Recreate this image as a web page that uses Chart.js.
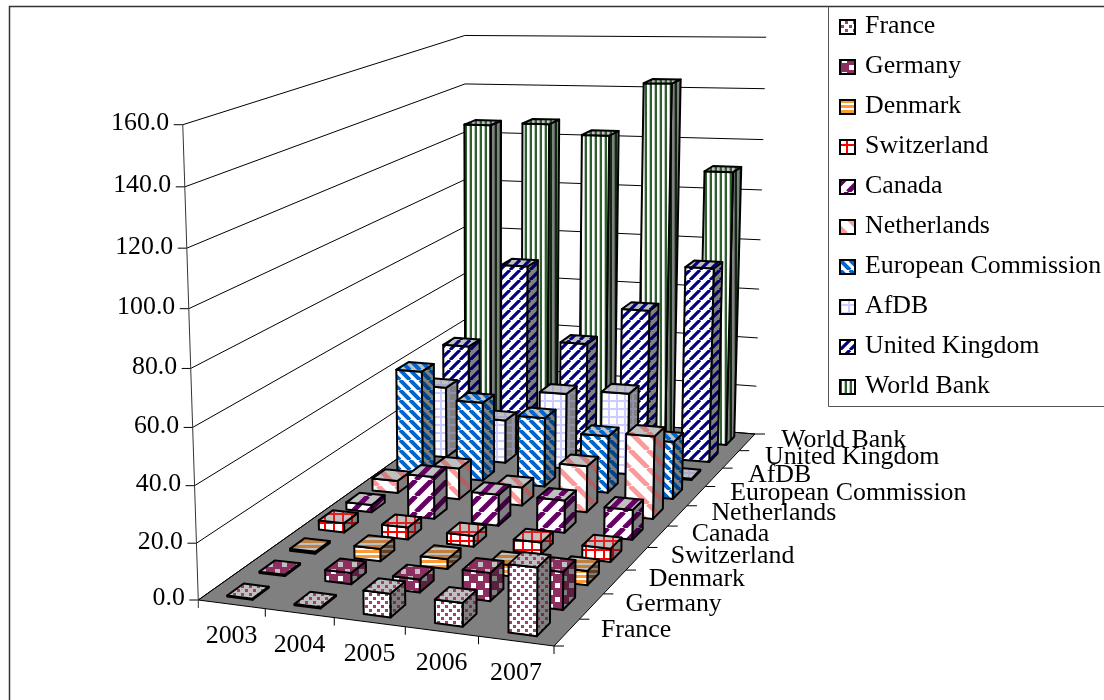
<!DOCTYPE html>
<html>
<head>
<meta charset="utf-8">
<title>Aid by donor</title>
<script src="https://cdn.jsdelivr.net/npm/chart.js@4"></script>
<style>
  body { margin: 0; background: #fff; }
  canvas { display: block; }
</style>
</head>
<body>
<canvas id="canvas" width="1104" height="700"></canvas>
<script>
const years = ["2003", "2004", "2005", "2006", "2007"];
const donors = ["France", "Germany", "Denmark", "Switzerland", "Canada", "Netherlands",
  "European Commission", "AfDB", "United Kingdom", "World Bank"];
const valueTicks = [0, 20, 40, 60, 80, 100, 120, 140, 160];
const valueLabels = ["0.0", "20.0", "40.0", "60.0", "80.0", "100.0", "120.0", "140.0", "160.0"];

const france = [0.4, 0.4, 8.1, 8.0, 22.8];
const germany = [0.5, 4.0, 4.6, 9.8, 13.0];
const denmark = [0.7, 4.5, 3.5, 4.0, 5.0];
const switzerland = [3.5, 4.5, 4.0, 4.3, 4.8];
const canada = [2.8, 16.0, 11.7, 12.0, 11.0];
const netherlands = [4.8, 12.0, 7.0, 17.5, 31.0];
const europeanCommission = [41.5, 31.0, 27.0, 22.0, 22.0];
const afdb = [28.7, 17.3, 30.0, 32.0, 0.5];
const unitedKingdom = [39.6, 74.0, 44.0, 59.0, 77.0];
const worldBank = [126.0, 127.0, 123.0, 144.0, 110.0];

const seriesValues = [france, germany, denmark, switzerland, canada, netherlands,
  europeanCommission, afdb, unitedKingdom, worldBank];

// corners of the floor and of the top plane on the page
const floorCorners = [[198.3, 600], [554, 646], [755, 434], [466, 410]];
const topCorners = [
  { u: 0, v: 0, x: 182.7, y: 128 },
  { u: 0, v: 1, x: 466, y: 28 },
  { u: 1, v: 1, x: 765, y: 42.5 },
];
const barWidthFront = 0.38;
const barWidthBack = 0.45;
const barDepth = 0.5;

const SERIF = '"Liberation Serif", "Times New Roman", serif';

function mean(list) {
  return list.reduce((a, b) => a + b, 0) / list.length;
}

function makeCamera(q, tops) {
  const [A, B, C, D] = q;
  const dx1 = B[0] - C[0], dx2 = D[0] - C[0], sx = A[0] - B[0] + C[0] - D[0];
  const dy1 = B[1] - C[1], dy2 = D[1] - C[1], sy = A[1] - B[1] + C[1] - D[1];
  const det = dx1 * dy2 - dx2 * dy1;
  const g = (sx * dy2 - dx2 * sy) / det;
  const h = (dx1 * sy - sx * dy1) / det;
  const a = B[0] - A[0] + g * B[0], b = D[0] - A[0] + h * D[0];
  const d = B[1] - A[1] + g * B[1], e = D[1] - A[1] + h * D[1];

  // least squares for the column of the camera that carries height
  const r = [], s = [];
  tops.forEach((p) => {
    const w = g * p.u + h * p.v + 1;
    r.push(p.x * w - (a * p.u + b * p.v + A[0]));
    s.push(p.y * w - (d * p.u + e * p.v + A[1]));
  });
  const xs = tops.map((p) => p.x), ys = tops.map((p) => p.y);
  const rm = mean(r), sm = mean(s), xm = mean(xs), ym = mean(ys);
  let top = 0, bottom = 0;
  tops.forEach((p, i) => {
    top += (r[i] - rm) * (xs[i] - xm) + (s[i] - sm) * (ys[i] - ym);
    bottom += (xs[i] - xm) ** 2 + (ys[i] - ym) ** 2;
  });
  const n = -top / bottom;
  const l = rm + xm * n, m = sm + ym * n;

  return (u, v, t) => {
    const w = g * u + h * v + n * t + 1;
    return [(a * u + b * v + l * t + A[0]) / w, (d * u + e * v + m * t + A[1]) / w];
  };
}
const project = makeCamera(floorCorners, topCorners);

function tile(size, bg, paint) {
  const c = document.createElement("canvas");
  c.width = c.height = size;
  const x = c.getContext("2d");
  x.fillStyle = bg;
  x.fillRect(0, 0, size, size);
  paint(x, size);
  return x.createPattern(c, "repeat");
}

const painters = {
  dots: (x, s) => {
    x.fillRect(1, 1, 3, 3);
    x.fillRect(s / 2 + 1, s / 2 + 1, 3, 3);
  },
  holes: (x, s) => {
    x.fillRect(0, 0, s, s);
    x.fillStyle = x.bgColor;
    x.fillRect(2, 2, 5, 5);
    x.fillRect(s / 2 + 2, s / 2 + 2, 5, 5);
  },
  hlines: (x, s) => x.fillRect(0, 0, s, s - 2),
  grid: (x, s) => {
    x.fillRect(0, 0, s, 2);
    x.fillRect(0, 0, 2, s);
  },
  vlines: (x, s) => {
    x.fillRect(0, 0, 2, s);
    x.globalAlpha = 0.35;
    x.fillRect(s - 1, 0, 1, s);
    x.globalAlpha = 1;
  },
  up: (x, s) => {
    x.lineWidth = x.stripe;
    x.beginPath();
    for (let i = -s; i <= s; i += s) {
      x.moveTo(i, s);
      x.lineTo(i + s, 0);
    }
    x.stroke();
  },
  down: (x, s) => {
    x.lineWidth = x.stripe;
    x.beginPath();
    for (let i = -s; i <= s; i += s) {
      x.moveTo(i, 0);
      x.lineTo(i + s, s);
    }
    x.stroke();
  },
};

// front, side and top shades of one fill
function faces(kind, size, stripe, fg, fgSide, fgTop) {
  const one = (color, bg) => tile(size, bg, (x, s) => {
    x.fillStyle = x.strokeStyle = color;
    x.bgColor = bg;
    x.stripe = stripe;
    painters[kind](x, s);
  });
  return { front: one(fg, "#ffffff"), side: one(fgSide, "#808080"), top: one(fgTop, "#c0c0c0") };
}

const donorFills = [
  faces("dots", 8, 0, "#a04070", "#703050", "#a04070"),
  faces("holes", 14, 0, "#8c2f60", "#5a2040", "#8c2f60"),
  faces("hlines", 5, 0, "#ff9933", "#664020", "#c08040"),
  faces("grid", 9, 0, "#ff0000", "#a01010", "#e02020"),
  faces("up", 16, 5, "#660066", "#400040", "#660066"),
  faces("down", 18, 5, "#ff9999", "#b06060", "#d08080"),
  faces("down", 10, 4, "#0066cc", "#004488", "#0066cc"),
  faces("grid", 8, 0, "#ccccff", "#9090a8", "#a8a8d0"),
  faces("up", 10, 3.2, "#000080", "#000060", "#000080"),
  faces("vlines", 5, 0, "#2f5f2f", "#102810", "#2f5f2f"),
];

// share of the value axis taken up by v
function valueShare(scale, v) {
  return scale.getDecimalForPixel(scale.getPixelForValue(v));
}

class Bar3dController extends Chart.BarController {
  static id = "bar3d";

  draw() {
    const ctx = this.chart.ctx;
    const meta = this._cachedMeta;
    const fill = this.getDataset().faces;
    const rows = this.chart.data.datasets.length;
    const v0 = (this.index + 0.5 - barDepth / 2) / rows;
    const v1 = (this.index + 0.5 + barDepth / 2) / rows;
    const xs = meta.iScale;
    // bars read slightly wider towards the back
    const width = barWidthFront + (barWidthBack - barWidthFront) * (this.index / (rows - 1));
    for (let i = 0; i < meta.data.length; i++) {
      const uc = (xs.getPixelForValue(i) - xs.left) / xs.width;
      const half = width / 2 / this.chart.data.labels.length;
      const u0 = uc - half, u1 = uc + half;
      const t = valueShare(meta.vScale, this.getParsed(i).y);
      polygon(ctx, fill.side, [[u1, v0, 0], [u1, v1, 0], [u1, v1, t], [u1, v0, t]]);
      polygon(ctx, fill.front, [[u0, v0, 0], [u1, v0, 0], [u1, v0, t], [u0, v0, t]]);
      polygon(ctx, fill.top, [[u0, v0, t], [u1, v0, t], [u1, v1, t], [u0, v1, t]]);
    }
  }
}
Chart.register(Bar3dController);

function polygon(ctx, style, pts) {
  ctx.beginPath();
  pts.forEach((p, i) => {
    const [x, y] = project(p[0], p[1], p[2]);
    if (i === 0) ctx.moveTo(x, y);
    else ctx.lineTo(x, y);
  });
  ctx.closePath();
  ctx.fillStyle = style;
  ctx.fill();
  ctx.lineWidth = 2;
  ctx.lineJoin = "round";
  ctx.strokeStyle = "#000000";
  ctx.stroke();
}

function line(ctx, pts, color, width) {
  ctx.beginPath();
  pts.forEach((p, i) => (i === 0 ? ctx.moveTo(p[0], p[1]) : ctx.lineTo(p[0], p[1])));
  ctx.strokeStyle = color || "#000000";
  ctx.lineWidth = width || 1;
  ctx.stroke();
}

// the type is set a little wider than it is tall
function label(ctx, text, x, y, align) {
  ctx.save();
  ctx.font = "24.5px " + SERIF;
  ctx.fillStyle = "#000000";
  ctx.textBaseline = "middle";
  ctx.textAlign = align;
  ctx.translate(x, y);
  ctx.scale(1.055, 1);
  ctx.fillText(text, 0, 0);
  ctx.restore();
}

const walls = {
  id: "walls",
  beforeDatasetsDraw(chart) {
    const ctx = chart.ctx;
    const ys = chart.scales.y;

    ctx.beginPath();
    [[0, 0], [1, 0], [1, 1], [0, 1]].forEach((c, i) => {
      const [x, y] = project(c[0], c[1], 0);
      if (i === 0) ctx.moveTo(x, y);
      else ctx.lineTo(x, y);
    });
    ctx.closePath();
    ctx.fillStyle = "#808080";
    ctx.fill();
    ctx.strokeStyle = "#000000";
    ctx.lineWidth = 1;
    ctx.stroke();

    valueTicks.forEach((tick, i) => {
      const t = valueShare(ys, tick);
      const a = project(0, 0, t);
      line(ctx, [a, project(0, 1, t), project(1, 1, t)]);
      line(ctx, [[a[0] - 9, a[1]], a]);
      label(ctx, valueLabels[i], a[0] - 13.5, a[1] - 1, "right");
    });
    line(ctx, [project(0, 0, 1), project(0, 0, 0), [floorCorners[0][0], floorCorners[0][1] + 8]], "#333333");

    years.forEach((year, i) => {
      const p = project((i + 1) / years.length, 0, 0);
      line(ctx, [p, [p[0], p[1] + 8]]);
      const m = project((i + 0.5) / years.length, 0, 0);
      label(ctx, year, m[0], m[1] + 32, "center");
    });

    donors.forEach((name, i) => {
      const p = project(1, i / donors.length, 0);
      line(ctx, [p, [p[0] + 10, p[1]]]);
      const m = project(1, (i + 0.5) / donors.length, 0);
      label(ctx, name, m[0] + 34, m[1] - 2, "left");
    });
    const end = project(1, 1, 0);
    line(ctx, [end, [end[0] + 10, end[1]]]);
  },
  afterDraw(chart) {
    const ctx = chart.ctx;
    // outer frame and legend box
    line(ctx, [[9.5, 700], [9.5, 6.5], [1104, 6.5]], "#333333", 1.5);
    line(ctx, [[828.5, 6.5], [828.5, 406.5], [1104, 406.5]], "#555555", 1);
    chart.data.datasets.forEach((ds, i) => {
      const y = 27 + i * 40;
      ctx.fillStyle = ds.faces.front;
      ctx.fillRect(840, y - 7, 15, 14);
      ctx.strokeStyle = "#000000";
      ctx.lineWidth = 2;
      ctx.strokeRect(840, y - 7, 15, 14);
      label(ctx, ds.label, 865, y - 0.5, "left");
    });
  },
};

const chart = new Chart(document.getElementById("canvas"), {
  type: "bar3d",
  data: {
    labels: years,
    datasets: donors.map((name, i) => ({
      label: name,
      data: seriesValues[i],
      faces: donorFills[i],
      backgroundColor: donorFills[i].front,
    })),
  },
  plugins: [walls],
  options: {
    responsive: false,
    animation: false,
    events: [],
    scales: {
      x: { type: "category", offset: true, display: false },
      y: { type: "linear", min: valueTicks[0], max: valueTicks[valueTicks.length - 1], display: false },
    },
    plugins: {
      legend: { display: false },
      tooltip: { enabled: false },
    },
  },
});
</script>
</body>
</html>
